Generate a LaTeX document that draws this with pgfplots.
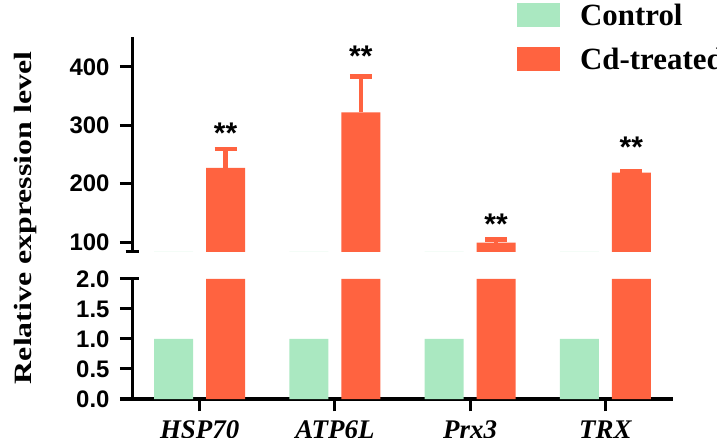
\documentclass[border=0pt]{standalone}
\usepackage{pgfplots}
\pgfplotsset{compat=1.18}
\usepackage{fontspec}
\setmainfont{Liberation Serif}
\newfontfamily\arialfont{Liberation Sans}

\definecolor{ctrlgreen}{RGB}{170,232,193}
\definecolor{cdred}{RGB}{255,99,64}

% mean expression (relative) and upward SD for the Cd-treated group
\pgfplotstableread{
x  ctrl  cd   cderr
0  1.0   227  32
1  1.0   322  61
2  1.0   99   5
3  1.0   219  2
}\exprdata

\tikzset{ticklines/.style={line width=3bp, black}}

\pgfplotsset{
  brokenaxis/.style={
    scale only axis,
    width=541bp,
    xmin=-0.5, xmax=3.5,
    ybar, bar width=39bp,
    axis line style={line width=3bp, -},
    tick style={line width=3bp, black},
    major tick length=12bp,
    tick align=outside,
    ytick pos=left,
    yticklabel style={font=\arialfont\bfseries\fontsize{24}{24}\selectfont, xshift=-7bp},
    /pgf/number format/assume math mode=true,
  },
}

\begin{document}
\begin{tikzpicture}
\path[use as bounding box, clip] (0,0) rectangle (717bp,438bp);

% lower segment: 0 to 2 (bars clamped at the break)
\begin{axis}[
  brokenaxis,
  at={(132bp,39bp)}, anchor=south west,
  height=120bp,
  ymin=0, ymax=2,
  clip=false,
  restrict y to domain*=0:2,
  axis x line*=bottom, axis y line*=left,
  xtick pos=bottom,
  ytick={0,0.5,1,1.5,2},
  yticklabel={\pgfmathprintnumber[fixed,fixed zerofill,precision=1]{\tick}},
  xtick={0,1,2,3},
  xticklabels={HSP70,ATP6L,Prx3,TRX},
  xticklabel style={font=\bfseries\itshape\fontsize{27}{27}\selectfont, yshift=-6bp},
]
\addplot[fill=ctrlgreen, draw=none, bar shift=-26bp] table[x=x, y=ctrl] {\exprdata};
\addplot[fill=cdred, draw=none, bar shift=26bp] table[x=x, y=cd] {\exprdata};
% outward tick lines
\pgfplotsinvokeforeach{0,0.5,1,1.5,2}{
  \draw[ticklines] ([xshift=-12bp]axis cs:-0.5,#1) -- ([xshift=1.5bp]axis cs:-0.5,#1);
}
\pgfplotsinvokeforeach{0,1,2,3}{
  \draw[ticklines] ([yshift=-12bp]axis cs:#1,0) -- ([yshift=1.5bp]axis cs:#1,0);
}
\coordinate (lowtop) at (rel axis cs:0,1);
\end{axis}

% upper segment: 83 to 451, bars clipped at the break
\begin{axis}[
  brokenaxis,
  at={(132bp,186bp)}, anchor=south west,
  height=215bp,
  ymin=83, ymax=451,
  clip=true,
  hide axis,
  legend style={
    at={(axis description cs:0.7116,1.158)}, anchor=north west,
    draw=none, fill=none, inner sep=0pt, row sep=20bp,
    font=\bfseries\fontsize{31}{31}\selectfont,
    nodes={inner sep=0pt},
  },
  legend cell align=left,
  legend image code/.code={
    \fill[#1] (0bp,-12bp) rectangle (43bp,12bp);
    \path (63bp,0bp);
  },
]
\addplot[fill=ctrlgreen, draw=none, bar shift=-26bp] table[x=x, y=ctrl] {\exprdata};
\addlegendentry{Control}
\addplot[fill=cdred, draw=none, bar shift=26bp,
  error bars/.cd, y dir=plus, y explicit,
  error bar style={line width=4.5bp, cdred},
  error mark options={rotate=90, mark size=11bp, line width=4.5bp, cdred},
] table[x=x, y=cd, y error=cderr] {\exprdata};
\addlegendentry{Cd-treated}
\coordinate (upbottom) at (rel axis cs:0,0);

% significance marks
\begin{scope}[every node/.style={font=\arialfont\bfseries\fontsize{30}{30}\selectfont, inner sep=0pt, yshift=-3bp}]
\node at (axis cs:0.192,292) {**};
\node at (axis cs:1.192,424) {**};
\node at (axis cs:2.192,136) {**};
\node at (axis cs:3.192,268) {**};
\end{scope}
\end{axis}

% upper segment: y-axis line and ticks
\begin{axis}[
  brokenaxis,
  at={(132bp,186bp)}, anchor=south west,
  height=215bp,
  ymin=83, ymax=451,
  clip=false,
  axis x line=none, axis y line*=left,
  xtick=\empty,
  ytick={100,200,300,400},
]
\pgfplotsinvokeforeach{100,200,300,400}{
  \draw[ticklines] ([xshift=-12bp]axis cs:-0.5,#1) -- ([xshift=1.5bp]axis cs:-0.5,#1);
}
\end{axis}

% end caps of the broken y-axis
\draw[line width=3bp] (upbottom) ++(-6.5bp,0) -- ++(13bp,0);
\draw[line width=3bp] (lowtop) ++(-0.5bp,0) -- ++(7bp,0);

% axis title, letter-spaced as in the original
\node[rotate=90, inner sep=0pt] at (26bp,220bp)
  {\scalebox{1.28}[1]{\bfseries\fontsize{25}{25}\selectfont Relative expression level}};
\end{tikzpicture}
\end{document}
